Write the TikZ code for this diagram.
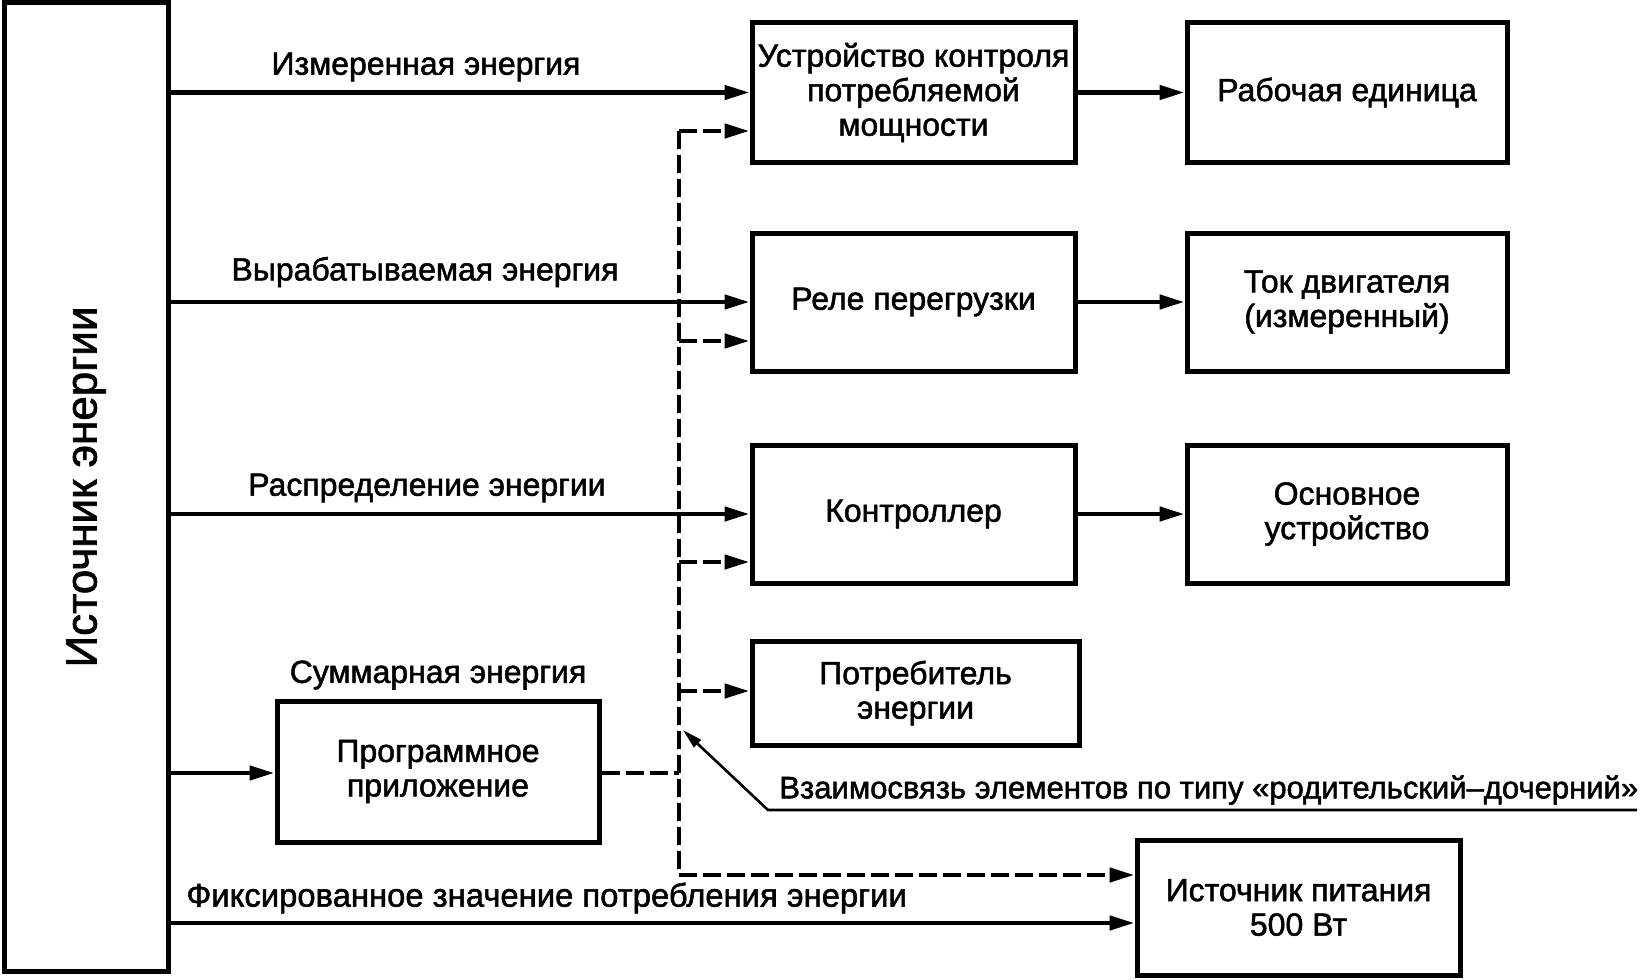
\documentclass[tikz,border=0pt]{standalone}
\usepackage{fontspec}
\setmainfont{Liberation Sans}[FakeBold=1.6]
\usetikzlibrary{arrows.meta}
\tikzset{
  box/.style={draw, line width=2.5pt, inner sep=0pt, align=center, font=\fontsize{16pt}{17.25pt}\selectfont},
  lbl/.style={inner sep=0pt, font=\fontsize{16pt}{17.25pt}\selectfont},
  arr/.style={line width=2.3pt, -{Triangle[length=12.5pt,width=7pt]}},
  darr/.style={line width=2.3pt, dash pattern=on 9pt off 3pt, -{Triangle[length=12.5pt,width=7pt]}},
  dline/.style={line width=2.3pt, dash pattern=on 9pt off 3pt},
  ptr/.style={line width=1.3pt, -{Triangle[length=10pt,width=5pt]}},
}
\begin{document}
\begin{tikzpicture}[x=0.5pt,y=-0.5pt]
\useasboundingbox[fill=white] (0,0) rectangle (1642,979);
% boxes
\node[box, minimum width=82pt, minimum height=484pt] (src) at (86,487) {};
\node[rotate=90, font=\fontsize{22pt}{24pt}\selectfont, inner sep=0pt] (srct) at (src.center) {Источник энергии};
\node[box, minimum width=161.5pt, minimum height=69.5pt] (b1) at (913.5,92.5) {Устройство контроля\\потребляемой\\мощности};
\node[box, minimum width=161.5pt, minimum height=69pt] (b2) at (913.5,302) {Реле перегрузки};
\node[box, minimum width=161.5pt, minimum height=69pt] (b3) at (913.5,514) {Контроллер};
\node[box, minimum width=160pt, minimum height=69.5pt] (b4) at (1347,92.5) {Рабочая единица};
\node[box, minimum width=160pt, minimum height=69pt] (b5) at (1347,302) {Ток двигателя\\(измеренный)};
\node[box, minimum width=160pt, minimum height=69pt] (b6) at (1347,514) {Основное\\устройство};
\node[box, minimum width=163.5pt, minimum height=52pt] (b7) at (915.5,693) {Потребитель\\энергии};
\node[box, minimum width=161pt, minimum height=70.5pt] (prog) at (438,771.5) {Программное\\приложение};
\node[box, minimum width=161.5pt, minimum height=67.5pt] (pow) at (1298.5,907.5) {Источник питания\\500 Вт};
% labels
\node[lbl] (l1) at (426,67) {Измеренная энергия};
\node[lbl] (l2) at (425,272) {Вырабатываемая энергия};
\node[lbl] (l3) at (427,488) {Распределение энергии};
\node[lbl] (l4) at (438,675) {Суммарная энергия};
\node[lbl, anchor=west, font=\fontsize{16.4pt}{17.25pt}\selectfont] (l5) at (186,898) {Фиксированное значение потребления энергии};
\node[lbl, anchor=west, font=\fontsize{15.5pt}{17pt}\selectfont] (l6) at (779,790) {Взаимосвязь элементов по типу «родительский–дочерний»};
% solid arrows
\draw[arr] (src.east |- b1) -- (b1.west);
\draw[arr] (src.east |- b2) -- (b2.west);
\draw[arr] (src.east |- b3) -- (b3.west);
\coordinate (pin) at (168,773);
\draw[arr] (pin) -- (pin -| prog.west);
\coordinate (fin) at (168,923);
\draw[arr] (fin) -- (fin -| pow.west);
\draw[arr] (b1.east) -- (b4.west);
\draw[arr] (b2.east) -- (b5.west);
\draw[arr] (b3.east) -- (b6.west);
% dashed spine
\coordinate (s1) at (679,131);
\coordinate (s2) at (679,341);
\coordinate (s3) at (679,562);
\coordinate (s4) at (679,691);
\coordinate (s5) at (679,875);
\coordinate (pj) at (679,773);
\draw[dline] (s1) -- (s5);
\draw[darr] (s1) -- (s1 -| b1.west);
\draw[darr] (s2) -- (s2 -| b2.west);
\draw[darr] (s3) -- (s3 -| b3.west);
\draw[darr] (s4) -- (s4 -| b7.west);
\draw[darr] (s5) -- (s5 -| pow.west);
\draw[dline] (prog.east |- pj) -- (pj);
% pointer
\coordinate (ue) at (1637,810);
\coordinate (uk) at (768,810);
\coordinate (ut) at (683,730);
\draw[ptr] (ue) -- (uk) -- (ut);
\end{tikzpicture}
\end{document}
